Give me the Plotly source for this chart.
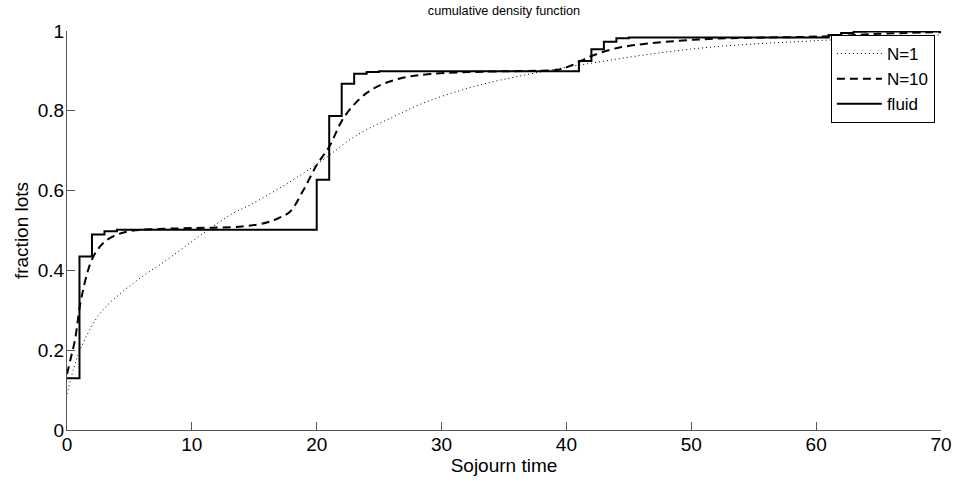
import plotly.graph_objects as go

# Fluid model (step function)
fluid_x = [0, 1, 2, 3, 4, 20, 21, 22, 23, 24, 25, 41, 42, 43, 44, 45, 61, 62, 63, 64, 70]
fluid_y = [0.13, 0.435, 0.49, 0.498, 0.502, 0.627, 0.787, 0.868, 0.893, 0.897, 0.899,
           0.925, 0.954, 0.973, 0.982, 0.984, 0.99, 0.995, 0.998, 0.999, 0.999]

# N=10 (dashed)
n10_x = [0, 0.3, 0.64, 1.17, 2.1, 3.18, 4.78, 6.65, 10, 14, 16, 17, 17.86, 18.93, 20, 21,
         22.13, 23.47, 24.8, 26.67, 29.07, 33.3, 37, 39.3, 40.5, 41.9, 44, 46.7, 50.7,
         54.7, 58.7, 62, 65, 70]
n10_y = [0.14, 0.18, 0.226, 0.334, 0.434, 0.476, 0.497, 0.503, 0.506, 0.51, 0.52, 0.532,
         0.547, 0.601, 0.664, 0.71, 0.781, 0.831, 0.86, 0.881, 0.892, 0.898, 0.9, 0.903,
         0.915, 0.936, 0.957, 0.969, 0.979, 0.983, 0.985, 0.988, 0.993, 0.997]

# N=1 (dotted)
n1_x = [0, 0.5, 1.04, 2.64, 5.31, 7.98, 10.65, 13.3, 14.66, 17.86, 20.5, 23.2, 25.87,
        28.5, 31.2, 33.6, 38.7, 42.7, 46.7, 50.7, 54.7, 58.4, 62, 66, 70]
n1_y = [0.09, 0.15, 0.2, 0.292, 0.368, 0.426, 0.487, 0.543, 0.564, 0.622, 0.677, 0.739,
        0.781, 0.819, 0.848, 0.869, 0.902, 0.923, 0.942, 0.957, 0.967, 0.973, 0.979,
        0.985, 0.99]

x_ticks = [0, 10, 20, 30, 40, 50, 60, 70]
y_ticks = [0, 0.2, 0.4, 0.6, 0.8, 1]
y_tick_labels = ["0", "0.2", "0.4", "0.6", "0.8", "1"]

FONT = "Liberation Sans, Arial, Helvetica, sans-serif"

fig = go.Figure()
fig.add_trace(go.Scatter(x=n1_x, y=n1_y, mode="lines", name="N=1", line_shape="spline",
                         line=dict(color="black", width=1, dash="1px,3px")))
fig.add_trace(go.Scatter(x=n10_x, y=n10_y, mode="lines", name="N=10", line_shape="spline",
                         line=dict(color="black", width=2, dash="8px,5px")))
fig.add_trace(go.Scatter(x=fluid_x, y=fluid_y, mode="lines", name="fluid", line_shape="hv",
                         line=dict(color="black", width=2)))

axis_common = dict(showgrid=False, zeroline=False, showline=True, linecolor="#555555",
                   linewidth=1, ticks="inside", ticklen=8, tickcolor="#555555",
                   tickfont=dict(size=19, color="black", family=FONT), mirror=False,
                   automargin=False)

fig.update_layout(
    width=957, height=481,
    margin=dict(l=67, r=16, t=31, b=51),
    paper_bgcolor="white", plot_bgcolor="white",
    font=dict(family=FONT, color="black"),
    title=dict(text="cumulative density function", x=0.5266, xanchor="center",
               y=0.979, yanchor="middle", font=dict(size=12.7)),
    xaxis=dict(range=[0, 70], tickvals=x_ticks,
               title=dict(text="Sojourn time", font=dict(size=19), standoff=0),
               ticklabelstandoff=-3, **axis_common),
    yaxis=dict(range=[0, 1], tickvals=y_ticks, ticktext=y_tick_labels,
               title=dict(text="fraction lots", font=dict(size=19), standoff=4),
               ticklabelstandoff=-2, **axis_common),
    legend=dict(x=0.993, y=0.99, xanchor="right", yanchor="top",
                bordercolor="black", borderwidth=1, bgcolor="white",
                font=dict(size=17, family=FONT), tracegroupgap=0,
                itemwidth=45),
    showlegend=True,
    hovermode=False,
)

fig.write_html(
    "out.html",
    config={"displayModeBar": False},
    post_script=(
        "document.documentElement.style.margin='0';"
        "document.body.style.margin='0';"
        "document.documentElement.style.overflow='hidden';"
        "document.body.style.overflow='hidden';"
    ),
)
